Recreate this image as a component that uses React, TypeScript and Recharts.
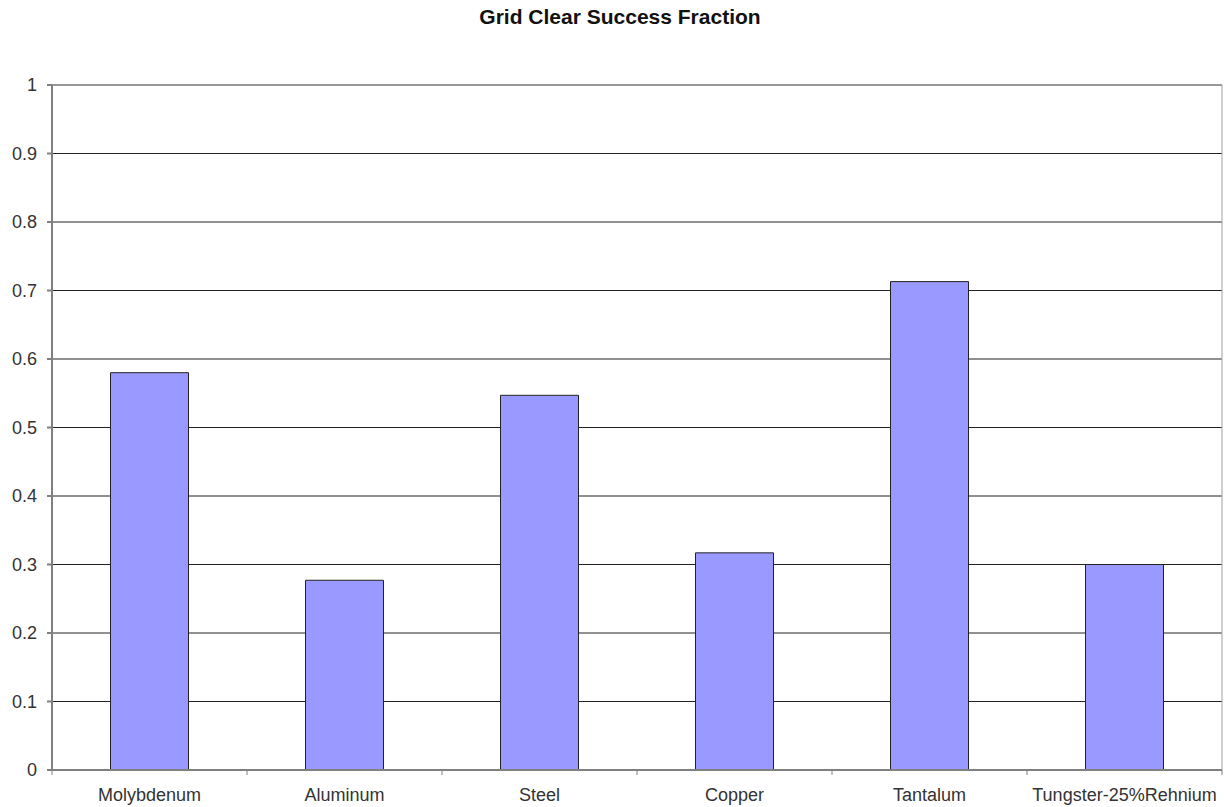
import React from "react";
import {
  BarChart,
  Bar,
  XAxis,
  YAxis,
  CartesianGrid,
  ReferenceArea,
} from "recharts";

const materials = [
  "Molybdenum",
  "Aluminum",
  "Steel",
  "Copper",
  "Tantalum",
  "Tungster-25%Rehnium",
];
const successFraction = [0.58, 0.277, 0.547, 0.317, 0.713, 0.3];
const yTicks = [0, 0.1, 0.2, 0.3, 0.4, 0.5, 0.6, 0.7, 0.8, 0.9, 1];

const data = materials.map((name, i) => ({ name, value: successFraction[i] }));

const FONT = "'Liberation Sans', Arial, sans-serif";

// category label plus Excel-style tick marks on the band edges
function CategoryTick(props: any) {
  const { x, y, payload, index } = props;
  const half = payload?.offset ?? 97.5;
  const last = index === materials.length - 1;
  return (
    <g>
      <line x1={x - half} y1={y - 8} x2={x - half} y2={y - 3} stroke="#808080" />
      {last && (
        <line x1={x + half} y1={y - 8} x2={x + half} y2={y - 3} stroke="#808080" />
      )}
      <text
        x={x}
        y={y + 23}
        textAnchor="middle"
        fontFamily={FONT}
        fontSize={18}
        fill="#333"
      >
        {payload.value}
      </text>
    </g>
  );
}

export default function App() {
  return (
    <div
      style={{
        position: "absolute",
        left: 0,
        top: 0,
        width: 1224,
        height: 807,
        background: "#fff",
      }}
    >
      <div
        style={{
          position: "absolute",
          top: 5,
          width: 1224,
          textAlign: "center",
          fontFamily: FONT,
          fontWeight: "bold",
          fontSize: 21,
          lineHeight: "24px",
          color: "#111",
          paddingLeft: 8,
        }}
      >
        Grid Clear Success Fraction
      </div>
      <BarChart
        width={1224}
        height={807}
        data={data}
        margin={{ top: 85, right: 2, left: 0, bottom: 0 }}
        barCategoryGap="30%"
      >
        <CartesianGrid vertical={false} stroke="#222" horizontalValues={yTicks} />
        <XAxis
          dataKey="name"
          height={37}
          interval={0}
          tickLine={false}
          stroke="#808080"
          strokeWidth={2}
          tick={<CategoryTick />}
        />
        <YAxis
          width={52}
          domain={[0, 1]}
          ticks={yTicks}
          tickSize={5}
          tickMargin={10}
          stroke="#808080"
          strokeWidth={2}
          tick={{ fontFamily: FONT, fontSize: 18, fill: "#333" }}
          tickFormatter={(v: number) => String(+v.toFixed(1))}
        />
        <ReferenceArea y1={0} y2={1} fill="none" stroke="#a0a0a0" />
        <Bar
          dataKey="value"
          fill="#9999FF"
          stroke="#222"
          strokeWidth={1}
          isAnimationActive={false}
        />
      </BarChart>
    </div>
  );
}
